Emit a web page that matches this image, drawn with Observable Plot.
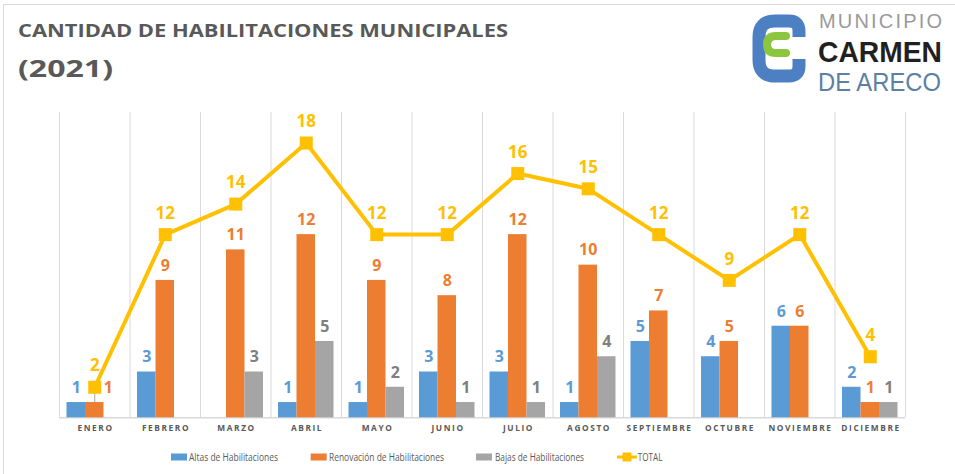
<!DOCTYPE html>
<html><head><meta charset="utf-8">
<script src="https://cdn.jsdelivr.net/npm/d3@7"></script>
<script src="https://cdn.jsdelivr.net/npm/@observablehq/plot@0.6"></script>
<style>
body{margin:0;background:#fff;font-family:"Open Sans",sans-serif;}
#page{position:relative;width:955px;height:474px;overflow:hidden;background:#fff;}
#frame{position:absolute;left:3px;top:4px;width:1000px;height:1000px;border-left:1px solid #d9d9d9;border-top:1px solid #d9d9d9;pointer-events:none;}
#header{height:100px;}
#chart{height:340px;}
#legend{height:34px;}
#header svg,#legend svg,#chart svg{display:block;}
.xlab text{letter-spacing:1.6px;}
</style></head><body>
<div id="page">
<div id="header"></div>
<div id="chart"></div>
<div id="legend"></div>
<div id="frame"></div>
</div>
<script>
// ---- data ----
const months = ["ENERO","FEBRERO","MARZO","ABRIL","MAYO","JUNIO","JULIO","AGOSTO","SEPTIEMBRE","OCTUBRE","NOVIEMBRE","DICIEMBRE"];
const altas = [1,3,0,1,1,3,3,1,5,4,6,2];
const renovacion = [1,9,11,12,9,8,12,10,7,5,6,1];
const bajas = [0,0,3,5,2,1,1,4,0,0,0,1];
const total = [2,12,14,18,12,12,16,15,12,9,12,4];
const seriesNames = ["Altas de Habilitaciones","Renovación de Habilitaciones","Bajas de Habilitaciones","TOTAL"];
const titleLines = ["CANTIDAD DE HABILITACIONES MUNICIPALES","(2021)"];
const logoLines = ["MUNICIPIO","CARMEN","DE ARECO"];

// ---- styles ----
const barColors = ["#5b9bd5","#ed7d31","#a5a5a5"];
const labelColors = ["#5b9bd5","#ed7d31","#7f7f7f"];
const totalColor = "#ffc000";
const gridColor = "#d9d9d9";
const textGray = "#595959";

// ---- header ----
const NS = "http://www.w3.org/2000/svg";
document.getElementById("header").innerHTML = `
<svg xmlns="${NS}" width="955" height="100">
  <text x="18" y="37" font-family="Open Sans" font-weight="700" font-size="17.5" fill="${textGray}" textLength="490" lengthAdjust="spacingAndGlyphs">${titleLines[0]}</text>
  <text x="18" y="77" font-family="Open Sans" font-weight="700" font-size="22.5" fill="${textGray}" textLength="95" lengthAdjust="spacingAndGlyphs">${titleLines[1]}</text>
  <path d="M799,37 V31 Q799,21 789,21 H775 Q759,21 759,37 V60 Q759,76 775,76 H789 Q799,76 799,66 V59" fill="none" stroke="#4d7fc3" stroke-width="13"/>
  <path d="M786,36 H776 Q767,36 767,44.5 Q767,53 776,53 H786" fill="none" stroke="#8cc63f" stroke-width="8" stroke-linecap="round"/>
  <text x="819" y="28" font-family="Liberation Sans" font-weight="400" font-size="20" fill="#9a9a9a" textLength="123" lengthAdjust="spacing">${logoLines[0]}</text>
  <text x="818" y="61.5" font-family="Liberation Sans" font-weight="700" font-size="30" fill="#231f20" textLength="124" lengthAdjust="spacingAndGlyphs">${logoLines[1]}</text>
  <text x="818" y="90.5" font-family="Liberation Sans" font-weight="400" font-size="25" fill="#5e7fa4" textLength="123" lengthAdjust="spacingAndGlyphs">${logoLines[2]}</text>
</svg>`;

// ---- chart ----
const W = 955, H = 340, mL = 59, mR = 50, mT = 12, mB = 22.7;
const bw = (W - mL - mR) / months.length;
const barW = 18.5;
const outer = (bw - 3 * barW) / 2;
const series = [altas, renovacion, bajas];
const rowsOf = vals => months.map((m, i) => ({m, v: vals[i], i}));
const totalRows = rowsOf(total);

const marks = [
  Plot.ruleX(months, {x: d => d, dx: -bw / 2, stroke: gridColor, strokeWidth: 1}),
  Plot.ruleX([months[months.length - 1]], {x: d => d, dx: bw / 2, stroke: gridColor, strokeWidth: 1}),
  Plot.ruleY([0], {stroke: gridColor, strokeWidth: 1.5})
];
series.forEach((vals, s) => {
  const rows = rowsOf(vals).filter(d => d.v > 0);
  marks.push(Plot.barY(rows, {x: "m", y: "v", fill: barColors[s],
    insetLeft: outer + s * barW, insetRight: bw - outer - (s + 1) * barW}));
});
// leader line for January renewal label
marks.push(Plot.ruleX([0], {x: i => months[i], y1: i => renovacion[i], y2: i => total[i], stroke: "#a5a5a5", strokeWidth: 1}));
series.forEach((vals, s) => {
  const rows = rowsOf(vals).filter(d => d.v > 0);
  const normal = s === 1 ? rows.filter(d => d.i !== 0) : rows;
  marks.push(Plot.text(normal, {x: "m", y: "v", text: d => String(d.v), dx: (s - 1) * barW, dy: -14.8,
    fill: labelColors[s], fontSize: 16, fontWeight: "bold"}));
  if (s === 1) {
    marks.push(Plot.text(rows.filter(d => d.i === 0), {x: "m", y: "v", text: d => String(d.v), dx: 13.5, dy: -14.8,
      fill: labelColors[s], fontSize: 16, fontWeight: "bold"}));
  }
});
marks.push(
  Plot.line(totalRows, {x: "m", y: "v", stroke: totalColor, strokeWidth: 4, strokeLinejoin: "miter"}),
  Plot.dot(totalRows, {x: "m", y: "v", symbol: "square", r: 7.35, fill: totalColor}),
  Plot.text(totalRows, {x: "m", y: "v", text: d => String(d.v), dy: -21.3, fill: totalColor, fontSize: 17, fontWeight: "bold"}),
  Plot.text(months, {x: d => d, frameAnchor: "bottom", dy: 13, dx: 0.8, fill: textGray, fontSize: 8.3, fontWeight: "bold", className: "xlab"})
);

const chart = Plot.plot({
  width: W, height: H,
  marginLeft: mL, marginRight: mR, marginTop: mT, marginBottom: mB,
  style: {fontFamily: "Open Sans", background: "transparent", overflow: "visible"},
  x: {type: "band", domain: months, padding: 0, round: false, axis: null},
  y: {domain: [0, 20], axis: null},
  marks
});
document.getElementById("chart").appendChild(chart);

// ---- legend ----
const legendLayout = [
  {sx: 171, tx: 189, tl: 89},
  {sx: 310.7, tx: 329, tl: 115},
  {sx: 476, tx: 495, tl: 89},
  {sx: 617, tx: 637.7, tl: 24.7}
];
let lg = `<svg xmlns="${NS}" width="955" height="34">`;
seriesNames.forEach((name, k) => {
  const L = legendLayout[k];
  if (k < 3) {
    lg += `<rect x="${L.sx}" y="13.5" width="16" height="7" fill="${barColors[k]}"/>`;
  } else {
    lg += `<line x1="${L.sx}" x2="${L.sx + 20}" y1="17" y2="17" stroke="${totalColor}" stroke-width="3"/>`;
    lg += `<rect x="${L.sx + 5.5}" y="12.5" width="9" height="9" fill="${totalColor}"/>`;
  }
  lg += `<text x="${L.tx}" y="20.6" font-family="Open Sans" font-size="10" fill="${textGray}" textLength="${L.tl}" lengthAdjust="spacingAndGlyphs">${name}</text>`;
});
lg += `</svg>`;
document.getElementById("legend").innerHTML = lg;
</script>
</body></html>
